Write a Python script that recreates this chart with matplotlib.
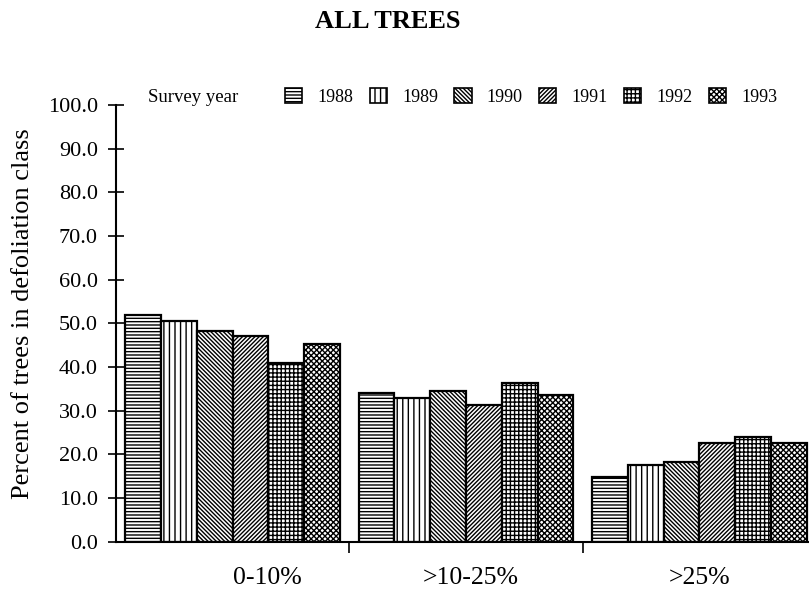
import matplotlib
matplotlib.use("Agg")
import matplotlib.pyplot as plt
from matplotlib.patches import Patch
import numpy as np

# ---- data ----
categories = ["0-10%", ">10-25%", ">25%"]
years = ["1988", "1989", "1990", "1991", "1992", "1993"]
v1988 = [52.0, 34.0, 14.8]
v1989 = [50.5, 32.8, 17.6]
v1990 = [48.2, 34.5, 18.3]
v1991 = [47.1, 31.2, 22.7]
v1992 = [40.9, 36.3, 23.9]
v1993 = [45.3, 33.7, 22.5]
series = [v1988, v1989, v1990, v1991, v1992, v1993]
yticks = [0, 10, 20, 30, 40, 50, 60, 70, 80, 90, 100]

# ---- style ----
hatches = ["-----", "|||", "\\" * 8, "/" * 8, "++++", "xxxxxx"]
plt.rcParams["font.family"] = ["Liberation Serif", "DejaVu Serif"]
plt.rcParams["hatch.linewidth"] = 1.0
plt.rcParams["hatch.color"] = "black"

W, H = 809, 591
fig = plt.figure(figsize=(W / 100, H / 100), dpi=100)
ax = fig.add_axes([116 / W, 49.3 / H, (809 - 116) / W, (541.7 - 105) / H])

bw = 0.1535
x = np.arange(len(categories))
for i, (vals, hat) in enumerate(zip(series, hatches)):
    offs = (i - 2.5) * bw
    ax.bar(x + offs, vals, width=bw, facecolor="white", edgecolor="black",
           hatch=hat, linewidth=1.6, label=years[i])

ax.set_xlim(-0.5, 2.47)
ax.set_ylim(0, 100)
ax.set_yticks(yticks)
ax.set_yticklabels([f"{v:.1f}" for v in yticks], fontsize=16)
ax.tick_params(axis="y", direction="inout", length=12, width=1.2, pad=7)
ax.set_xticks([0.5, 1.5])
ax.set_xticklabels(["", ""])
ax.tick_params(axis="x", direction="out", length=8, width=1.2)
for s in ["top", "right"]:
    ax.spines[s].set_visible(False)
ax.spines["left"].set_linewidth(1.5)
ax.spines["bottom"].set_linewidth(1.5)

label_offsets = [0.15, 0.02, 0.0]
for xi, (cat, off) in enumerate(zip(categories, label_offsets)):
    ax.text(xi + off, -0.082, cat, transform=ax.get_xaxis_transform(),
            ha="center", va="center", fontsize=18.5)

fig.text(23 / W, 1 - 314 / H, "Percent of trees in defoliation class",
         rotation=90, ha="center", va="center", fontsize=19)
fig.text(388 / W, 1 - 22 / H, "ALL TREES", ha="center", va="center",
         fontsize=19, fontweight="bold")
fig.text(148 / W, 1 - 98 / H, "Survey year", ha="left", va="center",
         fontsize=13.5)

handles = [Patch(facecolor="white", edgecolor="black", hatch=h, linewidth=1.2)
           for h in hatches]
fig.legend(handles, years, ncol=6, loc="center left",
           bbox_to_anchor=(285 / W, 1 - 97 / H), frameon=False,
           fontsize=13, handlelength=0.95, handleheight=0.85,
           handletextpad=0.85, columnspacing=0.9, borderpad=0, borderaxespad=0)

fig.savefig("out.png", dpi=100)
